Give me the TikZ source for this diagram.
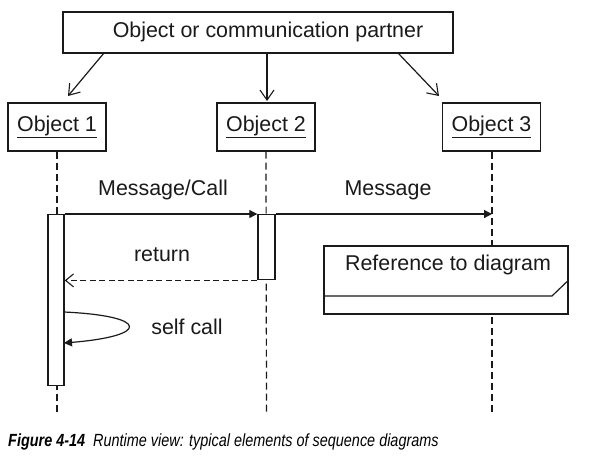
\documentclass[tikz,border=0pt]{standalone}
\usepackage{fontspec}
\setmainfont{Liberation Sans}
\newfontfamily\capfont[FakeStretch=0.82]{Liberation Sans}
\usetikzlibrary{arrows.meta}
\definecolor{ink}{HTML}{1A1A1A}
\begin{document}
\begin{tikzpicture}[x=1pt,y=-1pt,
  box/.style={draw=ink, line width=1.4pt, rectangle, inner sep=0pt, fill=white},
  lbl/.style={font=\fontsize{21.4}{24}\selectfont, text=ink, inner sep=0pt},
  life/.style={draw=ink, line width=1.2pt, dash pattern=on 7pt off 4pt},
  msg/.style={draw=ink, line width=1.2pt, -{Triangle[length=8pt,width=8pt]}},
  ret/.style={draw=ink, line width=1.2pt, dash pattern=on 6pt off 3.5pt, -{Straight Barb[length=8pt,width=13pt,line width=1.1pt]}},
  down/.style={draw=ink, line width=1.2pt, -{Straight Barb[length=10pt,width=14pt,line width=1.1pt]}},
  bar/.style={draw=ink, line width=1.4pt, fill=white, rectangle, inner sep=0pt, minimum width=16pt}
]
\useasboundingbox[fill=white] (0,0) rectangle (595,461);

% top box
\node[box, minimum width=390pt, minimum height=41pt] (top) at (258,32.5) {};
\node[lbl] (toptext) at (268,32) {Object or communication partner};

% object boxes
\node[box, minimum width=98pt, minimum height=48pt, lbl] (o1) at (57,127) {\underline{Object 1}};
\node[box, minimum width=98pt, minimum height=48pt, lbl] (o2) at (266,127) {\underline{Object 2}};
\node[box, minimum width=98pt, minimum height=48pt, lbl] (o3) at (491.5,127) {\underline{Object 3}};

% arrows from top box
\coordinate (t1) at (104,53);
\coordinate (t2) at (267,53);
\coordinate (t3) at (398,53);
\coordinate (h1) at (68,96);
\coordinate (h2) at (267,101);
\coordinate (h3) at (439,96);
\draw[down] (t1) -- (h1);
\draw[down] (t2) -- (h2);
\draw[down] (t3) -- (h3);

% lifelines
\coordinate (e1) at (57,412);
\coordinate (e2) at (266.5,412);
\coordinate (e3) at (492,412);
\draw[life] (o1.south) -- (e1);
\draw[life] (o2.south) -- (e2);
\draw[life] (o3.south -| e3) -- (e3);

% activation bars
\node[bar, minimum height=171pt, anchor=north] (a1) at (56,214) {};
\node[bar, minimum height=65pt, anchor=north, minimum width=17pt] (a2) at (266.5,214) {};

% messages
\draw[msg] (a1.north east) -- (a2.north west);
\coordinate (m3) at (492,214);
\draw[msg] (a2.north east) -- (m3);
\draw[ret] (a2.south west) -- (a2.south west -| a1.east);

\node[lbl] (lmc) at (163,190) {Message/Call};
\node[lbl] (lm) at (388,190) {Message};
\node[lbl] (lr) at (162,255) {return};

% self call
\coordinate (s1) at (64,312);
\coordinate (s2) at (64,343);
\draw[draw=ink, line width=1.2pt, -{Triangle[length=8pt,width=8pt]}] (s1) .. controls (150,316) and (150,336) .. (s2);
\node[lbl] (ls) at (187,327) {self call};

% reference box
\node[box, minimum width=244pt, minimum height=68pt] (ref) at (446,280) {};
\coordinate (r1) at (324,296);
\coordinate (r2) at (552,296);
\coordinate (r3) at (568,280);
\draw[draw=ink, line width=1.2pt] (ref.west |- r1) -- (r2) -- (ref.east |- r3);
\node[lbl] (lref) at (448,265) {Reference to diagram};

% caption
\node[anchor=west, inner sep=0pt, text=black, font=\capfont\fontsize{17.6}{20}\selectfont] (cap) at (8,442)
  {\textbf{\textit{Figure 4-14}}\hspace{8pt}\textit{Runtime view: typical elements of sequence diagrams}};
\end{tikzpicture}
\end{document}
